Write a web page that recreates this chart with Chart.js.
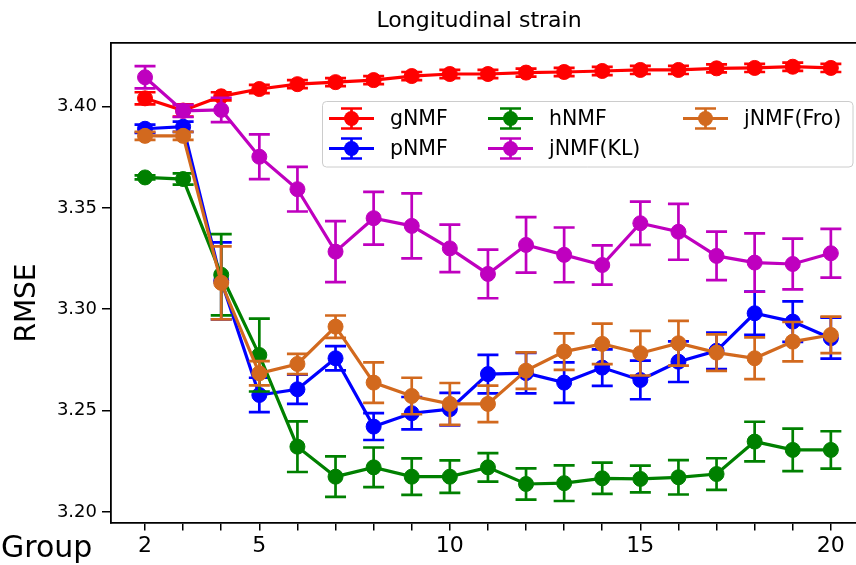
<!DOCTYPE html>
<html>
<head>
<meta charset="utf-8">
<script src="https://cdn.jsdelivr.net/npm/chart.js@4.4.1/dist/chart.umd.min.js"></script>
<style>
  html, body { margin: 0; padding: 0; background: #fff; }
  #wrap { width: 856px; height: 565px; }
</style>
</head>
<body>
<div id="wrap"><canvas id="rmseChart" width="856" height="565"></canvas></div>
<script>
// values
const groups = [2, 3, 4, 5, 6, 7, 8, 9, 10, 11, 12, 13, 14, 15, 16, 17, 18, 19, 20];
const xTickLabels = [2, 5, 10, 15, 20];

const seriesNames = ["gNMF", "pNMF", "hNMF", "jNMF(KL)", "jNMF(Fro)"];
const seriesColors = ["#ff0000", "#0000ff", "#008000", "#bf00bf", "#d2691e"];

const gNMF = [3.404, 3.398, 3.405, 3.4086, 3.411, 3.412, 3.413, 3.415, 3.416, 3.416, 3.4167, 3.417, 3.4175, 3.418, 3.418, 3.4188, 3.419, 3.4196, 3.419];
const gNMFErr = [0.003, 0.003, 0.002, 0.002, 0.002, 0.002, 0.002, 0.002, 0.002, 0.002, 0.002, 0.002, 0.002, 0.002, 0.002, 0.002, 0.002, 0.002, 0.002];

const pNMF = [3.389, 3.390, 3.314, 3.2577, 3.2605, 3.2758, 3.2421, 3.2487, 3.2507, 3.268, 3.2685, 3.2638, 3.2712, 3.2651, 3.2741, 3.2795, 3.298, 3.2939, 3.2857];
const pNMFErr = [0.002, 0.0025, 0.019, 0.0085, 0.0072, 0.006, 0.0066, 0.008, 0.008, 0.0095, 0.01, 0.01, 0.009, 0.0095, 0.01, 0.009, 0.0107, 0.01, 0.0101];

const hNMF = [3.365, 3.3642, 3.317, 3.2774, 3.2322, 3.2174, 3.222, 3.2174, 3.2174, 3.222, 3.2138, 3.2142, 3.2166, 3.2163, 3.2171, 3.2187, 3.2347, 3.2306, 3.2306];
const hNMFErr = [0.001, 0.0028, 0.02, 0.018, 0.0125, 0.010, 0.0098, 0.009, 0.008, 0.007, 0.0077, 0.0088, 0.0077, 0.0066, 0.0085, 0.0078, 0.0098, 0.0105, 0.0092];

const jNMFKL = [3.4144, 3.3978, 3.3983, 3.3752, 3.3592, 3.3284, 3.3449, 3.3411, 3.330, 3.3174, 3.3317, 3.3268, 3.3218, 3.3424, 3.3382, 3.3263, 3.323, 3.3223, 3.3276];
const jNMFKLErr = [0.0055, 0.003, 0.006, 0.011, 0.011, 0.015, 0.013, 0.016, 0.0117, 0.012, 0.0137, 0.0135, 0.0097, 0.0107, 0.0138, 0.012, 0.0144, 0.0125, 0.012];

const jNMFFro = [3.3855, 3.3855, 3.313, 3.2684, 3.273, 3.2914, 3.2638, 3.2572, 3.2533, 3.2533, 3.2697, 3.2791, 3.2829, 3.2783, 3.2832, 3.2786, 3.2758, 3.284, 3.2873];
const jNMFFroErr = [0.002, 0.002, 0.018, 0.006, 0.005, 0.0055, 0.01, 0.009, 0.0103, 0.009, 0.009, 0.009, 0.01, 0.011, 0.011, 0.009, 0.0103, 0.0097, 0.009];

const allValues = [gNMF, pNMF, hNMF, jNMFKL, jNMFFro];
const allErrors = [gNMFErr, pNMFErr, hNMFErr, jNMFKLErr, jNMFFroErr];

const FONT = "'DejaVu Sans', sans-serif";
const CAP = 10.5;

// error bars under each series' line, like matplotlib errorbar
const errorBars = {
  id: "errorBars",
  beforeDatasetDraw(chart, args) {
    const ds = chart.data.datasets[args.index];
    const yScale = chart.scales.y;
    const ctx = chart.ctx;
    ctx.save();
    ctx.strokeStyle = ds.borderColor;
    ctx.lineWidth = 2.7;
    args.meta.data.forEach((pt, i) => {
      const v = ds.data[i].y;
      const e = ds.errors[i];
      const top = yScale.getPixelForValue(v + e);
      const bot = yScale.getPixelForValue(v - e);
      ctx.beginPath();
      ctx.moveTo(pt.x, top); ctx.lineTo(pt.x, bot);
      ctx.moveTo(pt.x - CAP, top); ctx.lineTo(pt.x + CAP, top);
      ctx.moveTo(pt.x - CAP, bot); ctx.lineTo(pt.x + CAP, bot);
      ctx.stroke();
    });
    ctx.restore();
  },
};

// title, axis labels and the 3-column legend
const decorations = {
  id: "decorations",
  afterDraw(chart) {
    const ctx = chart.ctx;
    ctx.save();
    ctx.fillStyle = "#000";
    ctx.textBaseline = "alphabetic";

    ctx.font = `22px ${FONT}`;
    ctx.textAlign = "center";
    ctx.fillText("Longitudinal strain", 479, 27);

    ctx.font = `30px ${FONT}`;
    ctx.textAlign = "left";
    ctx.fillText("Group", 1, 557);

    ctx.save();
    ctx.translate(35, 303);
    ctx.rotate(-Math.PI / 2);
    ctx.textAlign = "center";
    ctx.font = `28px ${FONT}`;
    ctx.fillText("RMSE", 0, 0);
    ctx.restore();

    // legend box
    const bx = 322.5, by = 101.5, bw = 530.5, bh = 65.5, r = 4;
    ctx.beginPath();
    ctx.moveTo(bx + r, by);
    ctx.arcTo(bx + bw, by, bx + bw, by + bh, r);
    ctx.arcTo(bx + bw, by + bh, bx, by + bh, r);
    ctx.arcTo(bx, by + bh, bx, by, r);
    ctx.arcTo(bx, by, bx + bw, by, r);
    ctx.closePath();
    ctx.fillStyle = "rgba(255,255,255,0.8)";
    ctx.fill();
    ctx.strokeStyle = "#cccccc";
    ctx.lineWidth = 1;
    ctx.stroke();

    const colX = [329, 488, 683];
    const rowY = [118.5, 148.5];
    ctx.font = `20.5px ${FONT}`;
    ctx.textBaseline = "middle";
    chart.data.datasets.forEach((ds, i) => {
      const x0 = colX[Math.floor(i / 2)];
      const y0 = rowY[i % 2];
      const cx = x0 + 22.5;
      ctx.strokeStyle = ds.borderColor;
      ctx.lineWidth = 3.2;
      ctx.beginPath();
      ctx.moveTo(x0, y0); ctx.lineTo(x0 + 45, y0);
      ctx.stroke();
      ctx.lineWidth = 2.7;
      ctx.beginPath();
      ctx.moveTo(cx, y0 - 10); ctx.lineTo(cx, y0 + 10);
      ctx.moveTo(cx - CAP, y0 - 10); ctx.lineTo(cx + CAP, y0 - 10);
      ctx.moveTo(cx - CAP, y0 + 10); ctx.lineTo(cx + CAP, y0 + 10);
      ctx.stroke();
      ctx.fillStyle = ds.borderColor;
      ctx.beginPath();
      ctx.arc(cx, y0, 7.5, 0, Math.PI * 2);
      ctx.fill();
      ctx.fillStyle = "#000";
      ctx.textAlign = "left";
      ctx.fillText(ds.label, x0 + 61, y0 + 1);
    });
    ctx.restore();
  },
};

const datasets = seriesNames.map((name, k) => ({
  label: name,
  data: groups.map((g, i) => ({ x: g, y: allValues[k][i] })),
  errors: allErrors[k],
  borderColor: seriesColors[k],
  backgroundColor: seriesColors[k],
  pointBackgroundColor: seriesColors[k],
  pointBorderColor: seriesColors[k],
  borderWidth: 3.2,
  pointRadius: 7.5,
  pointBorderWidth: 1,
  tension: 0,
  fill: false,
  order: seriesNames.length - k,
}));

const xMin = 1.107, xMax = 20.66;

// keep the plot box fixed: no extra room for overhanging tick labels
const noSidePad = (s) => { s.paddingLeft = 0; s.paddingRight = 0; };

new Chart(document.getElementById("rmseChart"), {
  type: "line",
  data: { datasets },
  plugins: [errorBars, decorations],
  options: {
    responsive: false,
    animation: false,
    devicePixelRatio: 1,
    layout: { padding: 0, autoPadding: false },
    plugins: { legend: { display: false }, tooltip: { enabled: false }, title: { display: false } },
    scales: {
      x: {
        type: "linear",
        position: "bottom",
        min: xMin,
        max: xMax,
        border: { display: true, color: "#000", width: 1.8 },
        grid: { drawOnChartArea: false, drawTicks: true, tickLength: 8, color: "#000", lineWidth: 1.5 },
        ticks: {
          stepSize: 1,
          includeBounds: false,
          autoSkip: false,
          maxRotation: 0,
          padding: 3,
          color: "#000",
          font: { family: FONT, size: 22 },
          callback: (v) => (xTickLabels.includes(v) ? String(v) : ""),
        },
        afterFit: (s) => { s.height = 42.5; noSidePad(s); },
      },
      xTop: {
        type: "linear",
        position: "top",
        min: xMin,
        max: xMax,
        border: { display: true, color: "#000", width: 1.8 },
        grid: { display: false },
        ticks: { display: false },
        afterFit: (s) => { s.height = 43; noSidePad(s); },
      },
      y: {
        min: 3.1948,
        max: 3.4313,
        border: { display: true, color: "#000", width: 1.8 },
        grid: { drawOnChartArea: false, drawTicks: true, tickLength: 9, color: "#000", lineWidth: 1.5 },
        ticks: {
          stepSize: 0.05,
          includeBounds: false,
          padding: 5,
          color: "#000",
          font: { family: FONT, size: 18 },
          callback: (v) => v.toFixed(2),
        },
        afterFit: (s) => { s.width = 111; s.paddingTop = 0; s.paddingBottom = 0; },
      },
    },
  },
});
</script>
</body>
</html>
